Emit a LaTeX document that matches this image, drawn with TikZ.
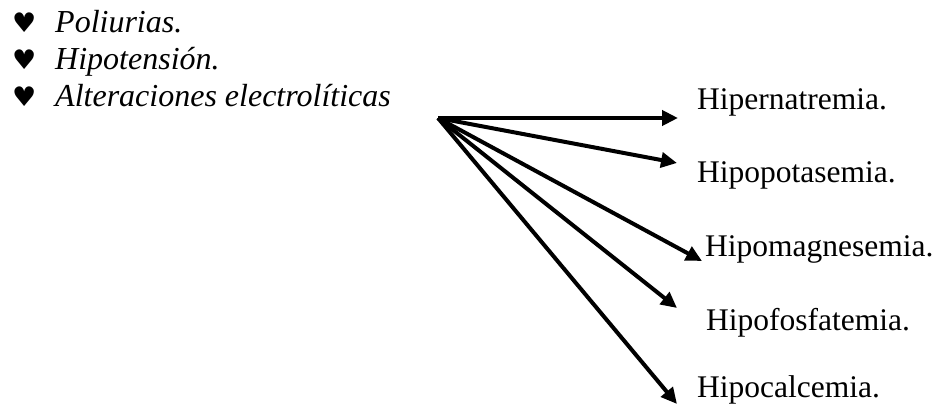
\documentclass[tikz,border=0pt]{standalone}
\usepackage{fontspec}
\setmainfont{Liberation Serif}
\newfontfamily\symfont{DejaVu Sans}
\usetikzlibrary{arrows.meta}
\begin{document}
\begin{tikzpicture}[x=1pt,y=-1pt,
  txt/.style={anchor=base west,inner sep=0pt,font=\fontsize{31.5}{36}\selectfont},
  itm/.style={txt,font=\fontsize{32}{36}\selectfont\itshape},
  heart/.style={anchor=base west,inner sep=0pt,font=\symfont\fontsize{27}{30}\selectfont},
  fan/.style={line width=4pt,-{Triangle[length=16pt,width=15pt]}}]
\useasboundingbox (0,0) rectangle (938,409);

% bullet list
\node[heart] (b1) at (12,33) {♥};
\node[heart] (b2) at (12,70) {♥};
\node[heart] (b3) at (12,107) {♥};
\node[itm] (poli) at (55,33) {Poliurias.};
\node[itm] (hipot) at (55,70) {Hipotensión.};
\node[itm] (alter) at (55,107) {Alteraciones electrolíticas};

% consequences
\node[txt] (na) at (697,110) {Hipernatremia.};
\node[txt] (k)  at (697,183) {Hipopotasemia.};
\node[txt] (mg) at (705,256) {Hipomagnesemia.};
\node[txt] (p)  at (706,330) {Hipofosfatemia.};
\node[txt] (ca) at (697,397) {Hipocalcemia.};

% fan of arrows
\coordinate (src) at (438,118);
\coordinate (tna) at (678,118);
\coordinate (tk)  at (677,163);
\coordinate (tmg) at (702,261);
\coordinate (tp)  at (677,308);
\coordinate (tca) at (677,404);
\foreach \t in {tna,tk,tmg,tp,tca}
  \draw[fan] (src) -- (\t);
\end{tikzpicture}
\end{document}
